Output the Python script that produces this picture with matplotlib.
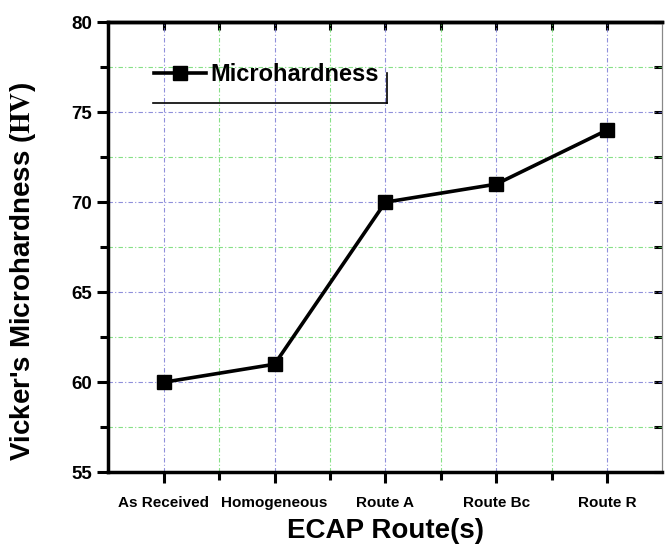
import numpy as np
import matplotlib.pyplot as plt
from matplotlib.lines import Line2D

# data
routes = ["As Received", "Homogeneous", "Route A", "Route Bc", "Route R"]
hardness = [60, 61, 70, 71, 74]

plt.rcParams['font.family'] = ['Liberation Sans', 'DejaVu Sans']
plt.rcParams['font.weight'] = 'bold'
plt.rcParams['mathtext.fontset'] = 'stix'

fig = plt.figure(figsize=(6.65, 5.53), dpi=100)
ax = fig.add_axes([0.163, 0.146, 0.833, 0.814])

x = np.arange(1, len(routes) + 1)
ax.plot(x, hardness, color='black', lw=2.6, marker='s', markersize=10,
        label='Microhardness')

ax.set_xlim(0.5, len(routes) + 0.5)
ax.set_ylim(55, 80)

ax.set_xticks(x)
ax.set_xticklabels(routes, fontsize=11, fontweight='bold')
ax.set_xticks(x[:-1] + 0.5, minor=True)
ax.set_yticks([55, 60, 65, 70, 75, 80])
ax.set_yticks([57.5, 62.5, 67.5, 72.5, 77.5], minor=True)
ax.tick_params(axis='y', labelsize=13.5)
for lab in ax.get_yticklabels():
    lab.set_fontweight('bold')

ax.tick_params(which='major', direction='out', length=8, width=2.2)
ax.tick_params(which='minor', direction='out', length=6, width=2.2)
ax.tick_params(axis='x', which='both', pad=9)

# top / right ticks point inward
top = ax.secondary_xaxis('top')
top.set_xticks(x)
top.set_xticks(x[:-1] + 0.5, minor=True)
top.tick_params(which='both', direction='in', length=6, width=2.2, labeltop=False)
top.spines['top'].set_linewidth(2.5)
right = ax.secondary_yaxis('right')
right.set_yticks([55, 60, 65, 70, 75, 80])
right.set_yticks([57.5, 62.5, 67.5, 72.5, 77.5], minor=True)
right.tick_params(which='both', direction='in', length=6, width=2.2, labelright=False)

for side in ['left', 'bottom', 'top']:
    ax.spines[side].set_linewidth(2.5)
ax.spines['right'].set_linewidth(0.8)
ax.spines['right'].set_color('#888888')
right.spines['right'].set_linewidth(0.8)
right.spines['right'].set_color('#888888')

# origin-style grid
ax.grid(which='major', color='#6a6ad0', lw=0.8, linestyle=(0, (4, 2, 1, 2)), alpha=0.75)
ax.grid(which='minor', color='#5cd65c', lw=0.8, linestyle=(0, (4, 2, 1, 2)), alpha=0.75)
ax.set_axisbelow(True)

ax.set_xlabel('ECAP Route(s)', fontsize=20, fontweight='bold', labelpad=6)
ax.set_ylabel(r"Vicker's Microhardness ($\mathrm{HV}$)", fontsize=20,
              fontweight='bold')
ax.yaxis.set_label_coords(-0.127, 0.445)

leg = ax.legend(loc='upper left', bbox_to_anchor=(0.065, 0.93), frameon=False,
                prop={'size': 17, 'weight': 'bold'}, handlelength=2.2,
                handletextpad=0.2, borderaxespad=0)

# partial legend frame (bottom + right edge)
ax.add_line(Line2D([0.08, 0.503], [0.82, 0.82], transform=ax.transAxes,
                   color='black', lw=1.2))
ax.add_line(Line2D([0.503, 0.503], [0.82, 0.887], transform=ax.transAxes,
                   color='black', lw=1.2))

fig.savefig('out.png', dpi=100)
